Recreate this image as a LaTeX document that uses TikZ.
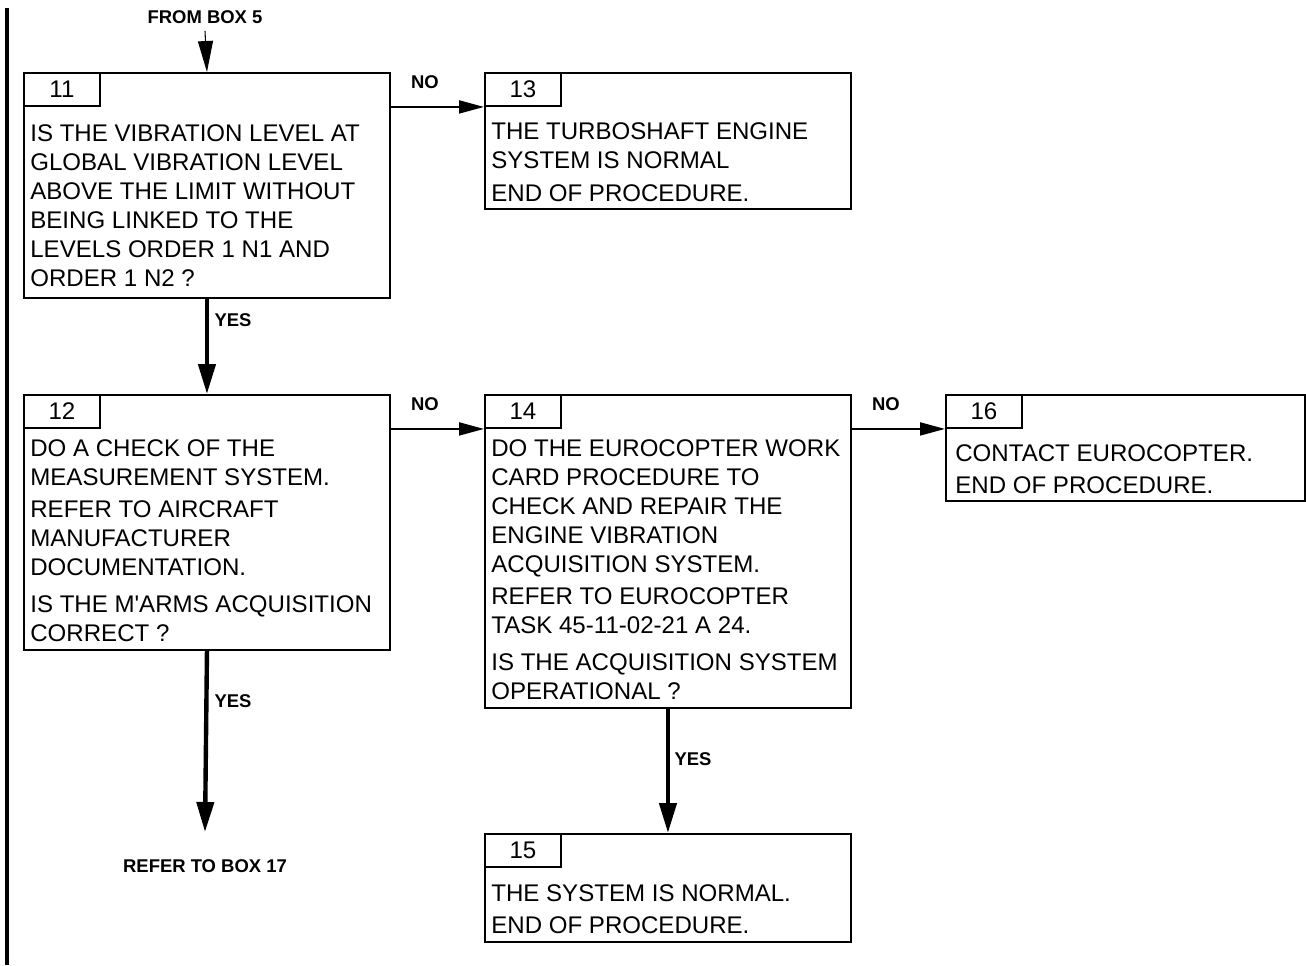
\documentclass[tikz,border=0pt]{standalone}
\usepackage{fontspec}
\setmainfont{Liberation Sans}
\usetikzlibrary{arrows.meta}

\newcommand{\bodyfont}{\fontsize{13.7pt}{16.55pt}\selectfont}
\newcommand{\lblfont}{\fontsize{10.5pt}{12pt}\selectfont\bfseries}

\begin{document}
\begin{tikzpicture}[x=0.02cm, y=-0.02cm,
    card/.style 2 args={draw, line width=1.1pt, minimum width=#1*0.02cm, minimum height=#2*0.02cm, anchor=north west, inner sep=0pt},
    tab/.style={draw, line width=1.1pt, minimum width=1.52cm, minimum height=0.66cm, anchor=north west, inner sep=0pt, font=\bodyfont},
    body/.style={anchor=north west, inner sep=0pt, align=left, font=\bodyfont},
    lbl/.style={font=\lblfont},
    noarr/.style={line width=1.1pt, -{Triangle[length=0.5cm, width=0.26cm]}},
    yesarr/.style={line width=2.5pt, -{Triangle[length=0.6cm, width=0.34cm]}},
    inarr/.style={line width=0.6pt, -{Triangle[length=0.62cm, width=0.3cm]}}]

    \useasboundingbox (0,0) rectangle (1306,965);

    % Side bar
    \draw[line width=2.3pt] (7,8) -- (7,965);

    \coordinate (from5) at (205,31);
    \coordinate (to17) at (205,832);

    % Box 11
    \node[card={366}{225}] (b11) at (23,72) {};
    \node[tab] (b11n) at (b11.north west) {11};
    \node[body] (t11) at (30,124) {IS THE VIBRATION LEVEL AT\\GLOBAL VIBRATION LEVEL\\ABOVE THE LIMIT WITHOUT\\BEING LINKED TO THE\\LEVELS ORDER 1 N1 AND\\ORDER 1 N2 ?};

    % Box 13
    \node[card={366}{136}] (b13) at (484,72) {};
    \node[tab] (b13n) at (b13.north west) {13};
    \node[body] (t13) at (491,122) {THE TURBOSHAFT ENGINE\\SYSTEM IS NORMAL\\[2.3pt]END OF PROCEDURE.};

    % Box 12
    \node[card={366}{255}] (b12) at (23,394) {};
    \node[tab] (b12n) at (b12.north west) {12};
    \node[body] (t12) at (30,439) {DO A CHECK OF THE\\MEASUREMENT SYSTEM.\\[1.7pt]REFER TO AIRCRAFT\\MANUFACTURER\\DOCUMENTATION.\\[4.5pt]IS THE M\textquotesingle ARMS ACQUISITION\\CORRECT ?};

    % Box 14
    \node[card={366}{313}] (b14) at (484,394) {};
    \node[tab] (b14n) at (b14.north west) {14};
    \node[body] (t14) at (491,439) {DO THE EUROCOPTER WORK\\CARD PROCEDURE TO\\CHECK AND REPAIR THE\\ENGINE VIBRATION\\ACQUISITION SYSTEM.\\[1.7pt]REFER TO EUROCOPTER\\TASK 45-11-02-21 A 24.\\[4.5pt]IS THE ACQUISITION SYSTEM\\OPERATIONAL ?};

    % Box 16
    \node[card={359}{106}] (b16) at (945,394) {};
    \node[tab] (b16n) at (b16.north west) {16};
    \node[body] (t16) at (955,444) {CONTACT EUROCOPTER.\\[1.7pt]END OF PROCEDURE.};

    % Box 15
    \node[card={366}{108}] (b15) at (484,833) {};
    \node[tab] (b15n) at (b15.north west) {15};
    \node[body] (t15) at (491,884) {THE SYSTEM IS NORMAL.\\[1.7pt]END OF PROCEDURE.};

    % Connectors
    \draw[inarr] (from5) -- (b11.north);
    \draw[noarr] (b11.east |- b11n.south) -- (b13n.south west);
    \draw[yesarr] (b11.south) -- (b12.north);
    \draw[noarr] (b12.east |- b12n.south) -- (b14n.south west);
    \draw[noarr] (b14.east |- b14n.south) -- (b16n.south west);
    \draw[yesarr] (b14.south) -- (b15.north);
    \draw[yesarr] (b12.south) -- (to17);

    % Labels
    \node[lbl] (lfrom5) at (205,17) {FROM BOX 5};
    \node[lbl] (lno1) at (425,82) {NO};
    \node[lbl] (lno2) at (425,404) {NO};
    \node[lbl] (lno3) at (886,404) {NO};
    \node[lbl] (lyes1) at (233,320) {YES};
    \node[lbl] (lyes2) at (233,701) {YES};
    \node[lbl] (lyes3) at (693,759) {YES};
    \node[lbl] (lto17) at (205,866) {REFER TO BOX 17};

\end{tikzpicture}
\end{document}
